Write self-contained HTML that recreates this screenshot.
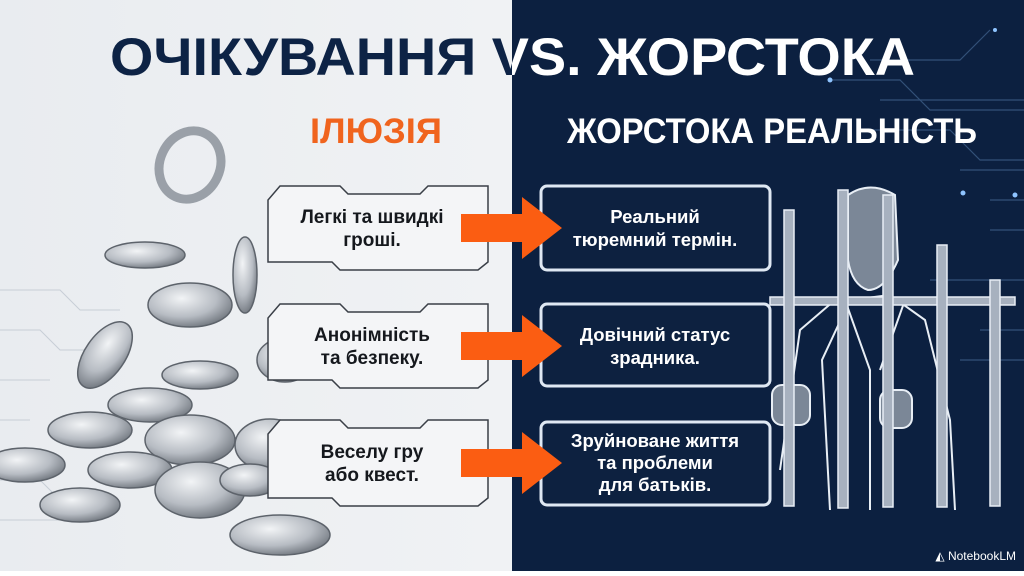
<!DOCTYPE html>
<html><head><meta charset="utf-8"><style>
html,body{margin:0;padding:0}
body{width:1024px;height:571px;overflow:hidden;font-family:"Liberation Sans",sans-serif}
</style></head><body>
<svg width="1024" height="571" viewBox="0 0 1024 571" xmlns="http://www.w3.org/2000/svg" font-family="Liberation Sans, sans-serif">
<defs>
<linearGradient id="lg" x1="0" x2="1"><stop offset="0" stop-color="#e9ecf0"/><stop offset="1" stop-color="#f0f2f4"/></linearGradient>
<radialGradient id="coin" cx="0.4" cy="0.35" r="0.7"><stop offset="0" stop-color="#f2f4f6"/><stop offset="0.6" stop-color="#b7bcc3"/><stop offset="1" stop-color="#6e747c"/></radialGradient>
<clipPath id="cl"><rect x="0" y="0" width="512" height="571"/></clipPath>
<clipPath id="cr"><rect x="512" y="0" width="512" height="571"/></clipPath>
</defs>
<rect width="512" height="571" fill="url(#lg)"/>
<rect x="512" width="512" height="571" fill="#0c2040"/>
<g stroke="#3c5d86" stroke-width="1.2" fill="none" opacity="0.8">
<path d="M870 60 L960 60 L990 30"/><path d="M830 80 L900 80 L930 110 L1024 110"/>
<path d="M860 130 L950 130 L980 160 L1024 160"/><path d="M880 100 L1024 100"/>
<path d="M960 170 L1024 170"/><path d="M990 200 L1024 200"/><path d="M990 230 L1024 230"/>
<path d="M930 280 L1024 280"/><path d="M980 330 L1024 330"/><path d="M960 360 L1024 360"/>
</g>
<g fill="#8fc4ff"><circle cx="830" cy="80" r="2.5"/><circle cx="963" cy="193" r="2.5"/><circle cx="1015" cy="195" r="2.5"/><circle cx="995" cy="30" r="2"/></g>
<g stroke="#c8ced6" stroke-width="1" fill="none">
<path d="M0 290 L60 290 L80 310 L120 310"/><path d="M0 330 L40 330 L60 350 L100 350"/><path d="M0 380 L50 380"/><path d="M0 420 L30 420"/><path d="M0 480 L40 480 L60 500"/><path d="M0 520 L70 520"/>
</g>
<g stroke="#5d636b" stroke-width="1.5">
<ellipse cx="190" cy="165" rx="30" ry="35" fill="none" stroke="#9aa0a8" stroke-width="9" transform="rotate(25 190 165)"/>
<ellipse cx="145" cy="255" rx="40" ry="13" fill="url(#coin)"/>
<ellipse cx="245" cy="275" rx="12" ry="38" fill="url(#coin)"/>
<ellipse cx="190" cy="305" rx="42" ry="22" fill="url(#coin)"/>
<ellipse cx="105" cy="355" rx="20" ry="38" fill="url(#coin)" transform="rotate(35 105 355)"/>
<ellipse cx="200" cy="375" rx="38" ry="14" fill="url(#coin)"/>
<ellipse cx="285" cy="360" rx="28" ry="22" fill="url(#coin)"/>
<ellipse cx="150" cy="405" rx="42" ry="17" fill="url(#coin)"/>
<ellipse cx="90" cy="430" rx="42" ry="18" fill="url(#coin)"/>
<ellipse cx="190" cy="440" rx="45" ry="25" fill="url(#coin)"/>
<ellipse cx="270" cy="445" rx="35" ry="26" fill="url(#coin)"/>
<ellipse cx="25" cy="465" rx="40" ry="17" fill="url(#coin)"/>
<ellipse cx="130" cy="470" rx="42" ry="18" fill="url(#coin)"/>
<ellipse cx="200" cy="490" rx="45" ry="28" fill="url(#coin)"/>
<ellipse cx="80" cy="505" rx="40" ry="17" fill="url(#coin)"/>
<ellipse cx="280" cy="535" rx="50" ry="20" fill="url(#coin)"/>
<ellipse cx="250" cy="480" rx="30" ry="16" fill="url(#coin)"/>
</g>
<g stroke="#e8eef5" stroke-width="2" fill="none">
<path d="M830 510 L822 360 L850 300 L890 295 L925 320 L950 420 L955 510"/>
<path d="M845 300 L870 370 L870 510"/><path d="M905 300 L880 370"/>
<path d="M780 470 L800 330 L835 300"/>
</g>
<path d="M848 195 Q870 180 895 195 L898 260 Q885 290 868 290 Q852 285 848 260 Z" fill="#7b8797" stroke="#e8eef5" stroke-width="2"/>
<rect x="772" y="385" width="38" height="40" rx="10" fill="#7b8797" stroke="#e8eef5" stroke-width="2"/>
<rect x="880" y="390" width="32" height="38" rx="10" fill="#7b8797" stroke="#e8eef5" stroke-width="2"/>
<g fill="#a7b1bf" stroke="#e8eef5" stroke-width="1.5">
<rect x="770" y="297" width="245" height="8"/>
<rect x="784" y="210" width="10" height="296"/>
<rect x="838" y="190" width="10" height="318"/>
<rect x="883" y="195" width="10" height="312"/>
<rect x="937" y="245" width="10" height="262"/>
<rect x="990" y="280" width="10" height="226"/>
</g>
<text x="110" y="75" font-size="53" font-weight="bold" fill="#0d2345" textLength="805" lengthAdjust="spacingAndGlyphs" clip-path="url(#cl)">ОЧІКУВАННЯ VS. ЖОРСТОКА</text>
<text x="110" y="75" font-size="53" font-weight="bold" fill="#ffffff" textLength="805" lengthAdjust="spacingAndGlyphs" clip-path="url(#cr)">ОЧІКУВАННЯ VS. ЖОРСТОКА</text>
<text x="310" y="143" font-size="35" font-weight="bold" fill="#f0641e" textLength="132" lengthAdjust="spacingAndGlyphs">ІЛЮЗІЯ</text>
<text x="567" y="143" font-size="35" font-weight="bold" fill="#ffffff" textLength="410" lengthAdjust="spacingAndGlyphs">ЖОРСТОКА РЕАЛЬНІСТЬ</text>
<g fill="#f4f5f7" stroke="#3a3f47" stroke-width="1.5">
<path d="M280 186 L340 186 L348 194 L420 194 L428 186 L488 186 L488 262 L478 270 L340 270 L332 262 L268 262 L268 200 Z"/>
<path d="M280 304 L340 304 L348 312 L420 312 L428 304 L488 304 L488 380 L478 388 L340 388 L332 380 L268 380 L268 318 Z"/>
<path d="M280 420 L340 420 L348 428 L420 428 L428 420 L488 420 L488 498 L478 506 L340 506 L332 498 L268 498 L268 434 Z"/>
</g>
<g font-size="19" font-weight="bold" fill="#15181d" text-anchor="middle">
<text x="372" y="223">Легкі та швидкі</text><text x="372" y="246">гроші.</text>
<text x="372" y="341">Анонімність</text><text x="372" y="364">та безпеку.</text>
<text x="372" y="458">Веселу гру</text><text x="372" y="481">або квест.</text>
</g>
<g fill="#0d2140" stroke="#dfe8f3" stroke-width="3">
<rect x="541" y="186" width="229" height="84" rx="6"/>
<rect x="541" y="304" width="229" height="82" rx="6"/>
<rect x="541" y="422" width="229" height="83" rx="6"/>
</g>
<g font-size="18.5" font-weight="bold" fill="#ffffff" text-anchor="middle">
<text x="655" y="223">Реальний</text><text x="655" y="246">тюремний термін.</text>
<text x="655" y="341">Довічний статус</text><text x="655" y="364">зрадника.</text>
<text x="655" y="447">Зруйноване життя</text><text x="655" y="469">та проблеми</text><text x="655" y="491">для батьків.</text>
</g>
<g fill="#fb5d12">
<path d="M461 214 L522 214 L522 197 L562 228 L522 259 L522 242 L461 242 Z"/>
<path d="M461 332 L522 332 L522 315 L562 346 L522 377 L522 360 L461 360 Z"/>
<path d="M461 449 L522 449 L522 432 L562 463 L522 494 L522 477 L461 477 Z"/>
</g>
<text x="1016" y="560" font-size="12" fill="#ffffff" text-anchor="end">◭ NotebookLM</text>
</svg>
</body></html>
